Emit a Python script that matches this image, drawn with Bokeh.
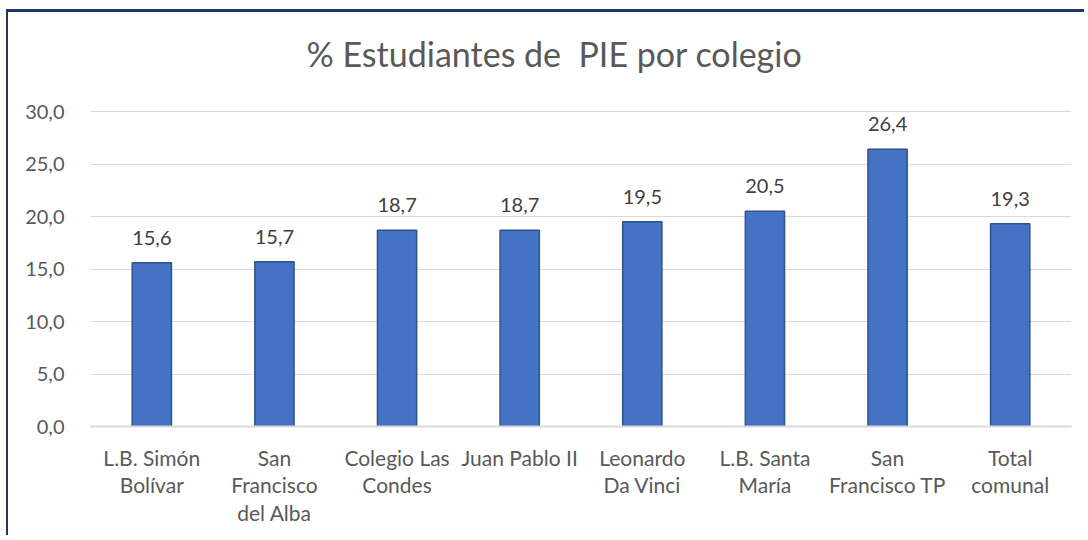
from bokeh.plotting import figure
from bokeh.models import ColumnDataSource, FactorRange, Range1d, FixedTicker, Label
from bokeh.core.properties import value
from bokeh.embed import file_html
from bokeh.resources import INLINE

categories = ["L.B. Simón\nBolívar", "San\nFrancisco\ndel Alba", "Colegio Las\nCondes",
              "Juan Pablo II", "Leonardo\nDa Vinci", "L.B. Santa\nMaría",
              "San\nFrancisco TP", "Total\ncomunal"]
values = [15.6, 15.7, 18.7, 18.7, 19.5, 20.5, 26.4, 19.3]
y_ticks = [0, 5, 10, 15, 20, 25, 30]
title = "% Estudiantes de \u00a0PIE por colegio"

FONT = "Lato"

src = ColumnDataSource(dict(
    cat=categories,
    val=values,
    lab=[f"{v:.1f}".replace(".", ",") for v in values],
))

# frame extends above the 30 line to host the title (grid only at y_ticks)
xr = FactorRange(factors=categories, range_padding=0)
p = figure(x_range=xr, y_range=Range1d(0, 38.667), width=1078, height=526,
           output_backend="svg", toolbar_location=None,
           min_border_left=82, min_border_right=15, min_border_top=8,
           min_border_bottom=112)
p.styles = {"border-left": "2px solid #1F3864", "border-top": "3px solid #1F3864",
            "margin-left": "6px", "margin-top": "9px"}

p.add_layout(Label(x=464, y=373, x_units="screen", y_units="screen", text=title,
                   text_align="center", text_baseline="middle", text_font=FONT,
                   text_font_size="34px", text_color="#595959"))

p.vbar(x="cat", top="val", width=0.32, source=src, fill_color="#4472C4",
       line_color="#2F528F", line_width=1.5)
p.text(x="cat", y="val", text="lab", source=src, text_align="center",
       text_baseline="bottom", y_offset=-18, text_font=value(FONT),
       text_font_size="20px", text_color="#404040")

p.outline_line_color = None
p.xgrid.grid_line_color = None
p.ygrid.grid_line_color = "#D9D9D9"
p.ygrid.grid_line_width = 1

p.yaxis.ticker = FixedTicker(ticks=y_ticks)
p.yaxis.major_label_overrides = {t: f"{t:.1f}".replace(".", ",") for t in y_ticks}
p.yaxis.axis_line_color = None
p.yaxis.major_tick_line_color = None
p.yaxis.minor_tick_line_color = None
p.yaxis.major_label_standoff = 20
p.yaxis.major_label_text_font = FONT
p.yaxis.major_label_text_font_size = "20px"
p.yaxis.major_label_text_color = "#595959"

p.xaxis.axis_line_color = "#D9D9D9"
p.xaxis.axis_line_width = 2
p.xaxis.major_tick_line_color = None
p.xaxis.minor_tick_line_color = None
p.xaxis.major_label_standoff = 12
p.xaxis.major_label_text_font = FONT
p.xaxis.major_label_text_font_size = "21px"
p.xaxis.major_label_text_color = "#595959"
p.xaxis.major_label_text_line_height = 1.11

p.background_fill_color = "white"
p.border_fill_color = "white"

open("out.html", "w").write(file_html(p, INLINE))
